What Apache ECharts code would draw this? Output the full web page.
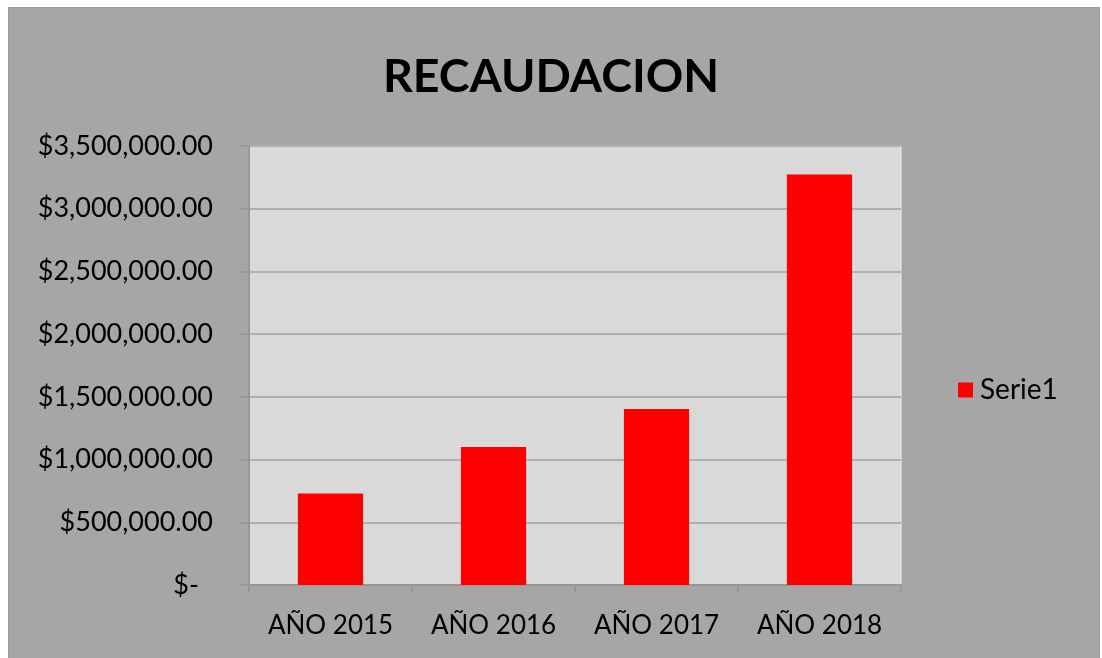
<!DOCTYPE html>
<html>
<head>
<meta charset="utf-8">
<script src="https://cdn.jsdelivr.net/npm/echarts@6/dist/echarts.min.js"></script>
<style>
html,body{margin:0;padding:0;background:#ffffff;}
#chart{width:1102px;height:658px;}
</style>
</head>
<body>
<div id="chart"></div>
<script>
const titleText = 'RECAUDACION';
const categories = ['AÑO 2015', 'AÑO 2016', 'AÑO 2017', 'AÑO 2018'];
const seriesName = 'Serie1';
const values = [730000, 1100000, 1403000, 3272000];
const yMin = 0, yMax = 3500000, yStep = 500000;

const FONT = 'Lato';
function fmt(v) {
  if (v === 0) return '{z|$-}';
  return '$' + v.toLocaleString('en-US', {minimumFractionDigits: 2, maximumFractionDigits: 2});
}

const chart = echarts.init(document.getElementById('chart'), null, {renderer: 'canvas'});
chart.setOption({
  animation: false,
  backgroundColor: 'transparent',
  graphic: [{
    type: 'rect', z: -10, silent: true,
    shape: {x: 8.5, y: 7.5, width: 1091, height: 660},
    style: {fill: '#a6a6a6', stroke: '#9a9a9a', lineWidth: 1}
  }],
  title: {
    text: titleText, left: 'center', top: 48,
    textStyle: {fontFamily: FONT, fontWeight: 'bold', fontSize: 46.5, color: '#000'}
  },
  legend: {
    data: [seriesName], orient: 'vertical', left: 953, top: 371,
    itemWidth: 15, itemHeight: 15, icon: 'rect', itemGap: 6,
    textStyle: {fontFamily: FONT, fontSize: 28, color: '#000', padding: [0, 0, 0, 2]}
  },
  grid: {left: 249, right: 201, top: 146, bottom: 73, containLabel: false,
    show: true, backgroundColor: '#d9d9d9', borderColor: '#ececec', borderWidth: 1},
  xAxis: {
    type: 'category', data: categories,
    axisLine: {show: true, lineStyle: {color: '#979797', width: 2}},
    axisTick: {show: true, length: 8, alignWithLabel: false, lineStyle: {color: '#979797', width: 2}},
    axisLabel: {fontFamily: FONT, fontSize: 26, color: '#000', margin: 28}
  },
  yAxis: {
    type: 'value', min: yMin, max: yMax, interval: yStep,
    axisLine: {show: true, lineStyle: {color: '#979797', width: 2}},
    axisTick: {show: true, length: 8, lineStyle: {color: '#979797', width: 2}},
    splitLine: {show: true, lineStyle: {color: '#b0b0b0', width: 2}},
    axisLabel: {fontFamily: FONT, fontSize: 27, color: '#000', margin: 36,
      formatter: fmt,
      rich: {z: {fontFamily: FONT, fontSize: 27, color: '#000', padding: [0, 14, 0, 0]}}}
  },
  series: [{
    name: seriesName, type: 'bar', data: values,
    barWidth: '40%',
    itemStyle: {color: '#ff0000'}
  }]
});
</script>
</body>
</html>
